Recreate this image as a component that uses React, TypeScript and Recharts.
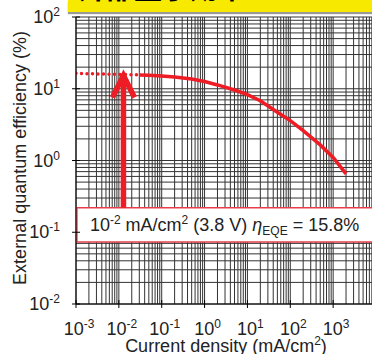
import React from "react";
import {
  LineChart, Line, XAxis, YAxis, CartesianGrid, ReferenceLine, ReferenceArea, Label
} from "recharts";

const FONT = "'Liberation Sans', Arial, sans-serif";
const RED = "#ee1c25";
const FS = 18;
const SUP = 12;

// current density (mA/cm2) and EQE (%)
const J_DOT = [0.001, 0.0015, 0.002, 0.003, 0.005, 0.007, 0.01, 0.015, 0.02, 0.03];
const EQE_DOT = [16.4, 16.3, 16.2, 16.1, 16.0, 15.9, 15.8, 15.75, 15.7, 15.6];
const J_LINE = [0.03, 0.05, 0.1, 0.2, 0.5, 1, 2, 5, 10, 20, 50, 100, 200, 500, 1000, 2000];
const EQE_LINE = [15.6, 15.4, 15.1, 14.6, 13.7, 12.6, 11.3, 9.6, 8.3, 6.8, 4.7, 3.6, 2.6, 1.65, 1.1, 0.65];

const X_DECADES = [-3, -2, -1, 0, 1, 2, 3];
const Y_DECADES = [-2, -1, 0, 1];
const MINOR = [1, 2, 3, 4, 5, 6, 7, 8, 9];

const xTicks = [...X_DECADES.flatMap(d => MINOR.map(m => m * Math.pow(10, d))), 1e4];
const yTicks = [...Y_DECADES.flatMap(d => MINOR.map(m => m * Math.pow(10, d))), 100];

const dotData = J_DOT.map((j, i) => ({ j, eqe: EQE_DOT[i] }));
const lineData = J_LINE.map((j, i) => ({ j, eqe: EQE_LINE[i] }));

const isDecade = (v: number) => Math.abs(Math.log10(v) - Math.round(Math.log10(v))) < 1e-9;

function XTick({ x, y, payload }: any) {
  const v = payload.value;
  if (!isDecade(v) || v > 1000) return null;
  const e = Math.round(Math.log10(v));
  return (
    <g>
      <line x1={x} x2={x} y1={y - 22} y2={y - 14} stroke="#000" />
      <text x={x + 3} y={y + 13} textAnchor="middle" fontFamily={FONT} fontSize={FS} fill="#222">
        10<tspan dy={-7} fontSize={SUP}>{e}</tspan>
      </text>
    </g>
  );
}

function YTick({ x, y, payload }: any) {
  const v = payload.value;
  if (!isDecade(v)) return null;
  const e = Math.round(Math.log10(v));
  return (
    <g>
      <line x1={x + 10} x2={x + 18} y1={y} y2={y} stroke="#000" />
      <text x={x - 2} y={y + 6} textAnchor="end" fontFamily={FONT} fontSize={FS} fill="#222">
        10<tspan dy={-7} fontSize={SUP}>{e}</tspan>
      </text>
    </g>
  );
}

function Arrow(p: any) {
  const { x1, y1, y2 } = p;
  const top = Math.min(y1, y2);
  const bot = Math.max(y1, y2);
  return (
    <g>
      <line x1={x1} x2={x1} y1={bot} y2={top + 3} stroke={RED} strokeWidth={5.5} />
      <polyline points={`${x1 - 11},${top + 23} ${x1},${top + 1} ${x1 + 11},${top + 23}`}
        fill="none" stroke={RED} strokeWidth={5.5} strokeLinejoin="miter" />
    </g>
  );
}

function BoxText({ viewBox }: any) {
  const { x, y, height } = viewBox;
  return (
    <text x={x + 13} y={y + height / 2 + 6} fontFamily={FONT} fontSize={FS} fill="#222">
      10<tspan dy={-7} fontSize={SUP}>-2</tspan>
      <tspan dy={7}> mA/cm</tspan><tspan dy={-7} fontSize={SUP}>2</tspan>
      <tspan dy={7}> (3.8 V) </tspan>
      <tspan fontStyle="italic">η</tspan><tspan dy={4} fontSize={SUP}>EQE</tspan>
      <tspan dy={-4}> = 15.8%</tspan>
    </text>
  );
}

function YLabel() {
  return (
    <text x={26} y={158} transform="rotate(-90 26 158)" textAnchor="middle"
      fontFamily={FONT} fontSize={FS} fill="#222">
      External quantum efficiency (%)
    </text>
  );
}

export default function App() {
  return (
    <div style={{ position: "absolute", left: 0, top: 0, width: 372, height: 354, overflow: "hidden", background: "#fff" }}>
      <div style={{ position: "absolute", left: 68, top: 0, width: 320, height: 12, background: "#f7ea00",
        boxShadow: "0 2px 1px #999", overflow: "hidden", zIndex: 2 }}>
        <div style={{ position: "absolute", left: 10, top: -28, fontFamily: "'Noto Sans CJK JP'", fontWeight: 700,
          fontSize: 28, lineHeight: "30px", color: "#000", whiteSpace: "nowrap" }}>外部量子効率</div>
      </div>
      <LineChart width={400} height={354} margin={{ top: 17, right: 24, bottom: 0, left: 0 }}>
        <CartesianGrid stroke="#333" strokeWidth={1} />
        <XAxis dataKey="j" type="number" scale="log" domain={[1e-3, 1e4]} ticks={xTicks}
          allowDataOverflow height={50} tickSize={18} tickMargin={0} tickLine={false}
          axisLine={{ stroke: "#000" }} tick={<XTick />} interval={0}>
          <Label content={() => (
            <text x={226} y={352} textAnchor="middle" fontFamily={FONT} fontSize={FS} fill="#222">
              Current density (mA/cm<tspan dy={-7} fontSize={SUP}>2</tspan><tspan dy={7}>)</tspan>
            </text>
          )} />
        </XAxis>
        <YAxis dataKey="eqe" type="number" scale="log" domain={[0.01, 100]} ticks={yTicks}
          allowDataOverflow width={76} tickSize={14} tickMargin={0} tickLine={false}
          axisLine={{ stroke: "#000" }} tick={<YTick />} interval={0}>
          <Label content={() => <YLabel />} />
        </YAxis>
        <ReferenceArea x1={0.00105} x2={1e4} y1={0.073} y2={0.22} fill="#fff" fillOpacity={1}
          stroke="#e8404a" strokeWidth={1.5} ifOverflow="visible" label={<BoxText />} />
        <ReferenceLine segment={[{ x: 0.0128, y: 0.22 }, { x: 0.0128, y: 15.8 }]} shape={<Arrow />}
          ifOverflow="visible" />
        <Line data={dotData} dataKey="eqe" stroke={RED} strokeWidth={3.5} strokeDasharray="0 5.5"
          strokeLinecap="round" dot={false} isAnimationActive={false} />
        <Line data={lineData} dataKey="eqe" stroke={RED} strokeWidth={3.5} dot={false}
          isAnimationActive={false} />
      </LineChart>
    </div>
  );
}
